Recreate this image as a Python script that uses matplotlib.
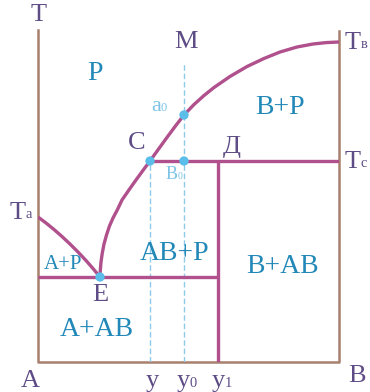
import numpy as np
import matplotlib.pyplot as plt

plt.rcParams['font.family'] = ['Liberation Serif', 'DejaVu Serif']

# composition axis: A = 0, B = 100; temperature axis: 0 .. 100
liq_x = [20.6, 20.7, 20.93, 21.36, 21.93, 22.76, 23.75, 24.92, 26.41, 27.91,
         30.23, 32.56, 34.88, 37.21, 39.87, 42.52, 45.51, 48.5, 51.83, 55.15,
         58.47, 63.79, 69.44, 75.08, 80.4, 86.05, 91.36, 95.68, 100.0]
liq_t = [25.6, 27.71, 30.12, 32.83, 35.54, 38.25, 40.96, 43.37, 45.93, 48.8,
         51.85, 54.83, 57.71, 60.54, 63.92, 67.23, 70.9, 74.4, 77.56, 80.27,
         82.68, 86.0, 89.0, 91.42, 93.37, 94.88, 95.78, 96.2, 96.39]
sol_a_x = [0.0, 2.66, 5.32, 7.97, 10.63, 13.29, 15.95, 18.27, 20.6]
sol_a_t = [43.67, 41.87, 39.91, 37.8, 35.54, 33.13, 30.57, 28.16, 25.6]

t_eut = 25.6        # E
t_c = 60.54         # C, Д, Tc
x_e = 20.6
x_c = 37.21         # y
x_0 = 48.5          # y0
x_d = 59.8          # y1 (compound AB)
t_a0 = 74.4

label_col = '#5e4c86'
phase_col = '#2188b8'
light_col = '#7cc3e6'
curve_col = '#b0508c'
axis_col = '#a8806e'
dash_col = '#8ccbea'
dot_col = '#5bbde9'

fig = plt.figure(figsize=(3.7, 3.92), dpi=100)
ax = fig.add_axes([38 / 370, 30 / 392, 301 / 370, 332 / 392])
ax.set_xlim(0, 100)
ax.set_ylim(0, 100)
ax.axis('off')

# frame: T axis, bottom, right axis
ax.plot([0, 0, 100, 100], [100, 0, 0, 99.7], color=axis_col, lw=1.8, clip_on=False)

# dashed verticals
ax.plot([x_c, x_c], [0, t_c], ls='--', color=dash_col, lw=1.0, dashes=(4, 2))
ax.plot([x_0, x_0], [0, 90.5], ls='--', color=dash_col, lw=1.0, dashes=(4, 2))

# phase lines
kw = dict(color=curve_col, lw=2.4, solid_capstyle='butt', solid_joinstyle='round')
ax.plot(liq_x, liq_t, **kw)
ax.plot(sol_a_x, sol_a_t, **kw)
ax.plot([0, x_d], [t_eut, t_eut], **kw)
ax.plot([x_c, 100], [t_c, t_c], **kw)
ax.plot([x_d, x_d], [0, t_c], **kw)

# points
ax.scatter([x_e, x_c, x_0, x_0], [t_eut, t_c, t_c, t_a0], s=45, color=dot_col,
           zorder=5, edgecolors='none', clip_on=False)


def txt(x, y, s, col=label_col, size=19, **k):
    return ax.text(x, y, s, color=col, fontsize=size, ha='center', va='center',
                   clip_on=False, **k)


def sub_txt(x, y, main, sub, col=label_col, size=19, ha='left'):
    t = ax.text(x, y, main, color=col, fontsize=size, ha=ha, va='center', clip_on=False)
    ax.annotate(sub, xy=(1, 0.12), xycoords=t, color=col, fontsize=size * 0.55,
                ha='left', va='bottom', annotation_clip=False)
    return t


txt(0.3, 104.5, 'T')
txt(49.2, 96.4, 'M')
txt(32.9, 66.0, 'C')
txt(64.5, 64.8, 'Д')
txt(20.6, 20.3, 'E')
txt(-2.7, -5.6, 'A')
txt(106.0, -4.2, 'B')
txt(37.9, -5.8, 'y')
sub_txt(46.0, -5.8, 'y', '0')
sub_txt(57.6, -5.8, 'y', '1')
sub_txt(101.8, 96.2, 'T', 'в')
sub_txt(101.8, 60.2, 'T', 'c')
sub_txt(-9.5, 44.9, 'T', 'a')

sub_txt(37.5, 76.9, 'a', '0', col=light_col, size=16)
sub_txt(42.3, 56.4, 'B', '0', col=light_col, size=13)

txt(18.9, 87.0, 'P', col=phase_col, size=20)
txt(80.4, 76.8, 'B+P', col=phase_col, size=20)
txt(8.3, 29.5, 'A+P', col=phase_col, size=15)
txt(45.5, 32.8, 'AB+P', col=phase_col, size=20)
txt(19.6, 9.9, 'A+AB', col=phase_col, size=20)
txt(81.4, 28.9, 'B+AB', col=phase_col, size=20)

fig.savefig('out.png', dpi=100, facecolor='white')
